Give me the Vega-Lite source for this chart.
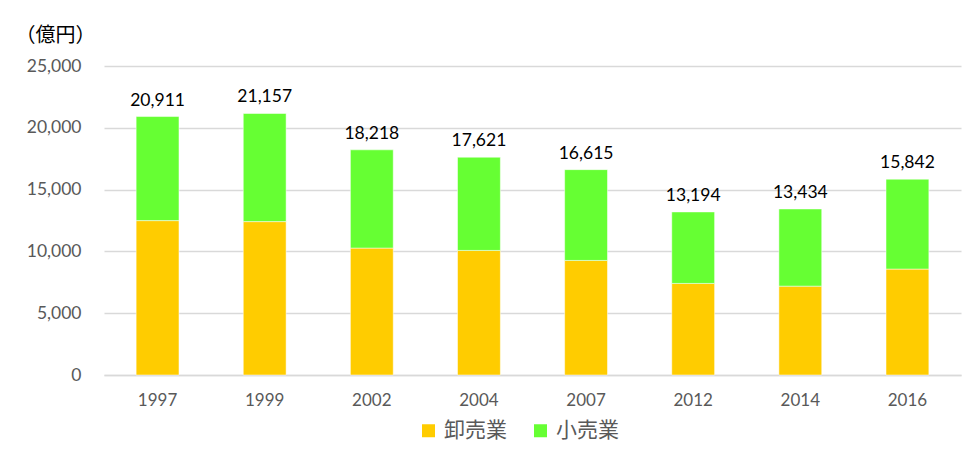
{
  "$schema": "https://vega.github.io/schema/vega-lite/v6.json",
  "autosize": "none",
  "width": 857,
  "height": 309,
  "padding": {"left": 104, "top": 66, "right": 13, "bottom": 77},
  "background": "white",
  "config": {
    "view": {"stroke": null},
    "font": "Lato"
  },
  "datasets": {
    "parts": [
      {"year": "1997", "type": "卸売業", "order": 1, "value": 12490},
      {"year": "1997", "type": "小売業", "order": 2, "value": 8421},
      {"year": "1999", "type": "卸売業", "order": 1, "value": 12410},
      {"year": "1999", "type": "小売業", "order": 2, "value": 8747},
      {"year": "2002", "type": "卸売業", "order": 1, "value": 10270},
      {"year": "2002", "type": "小売業", "order": 2, "value": 7948},
      {"year": "2004", "type": "卸売業", "order": 1, "value": 10080},
      {"year": "2004", "type": "小売業", "order": 2, "value": 7541},
      {"year": "2007", "type": "卸売業", "order": 1, "value": 9270},
      {"year": "2007", "type": "小売業", "order": 2, "value": 7345},
      {"year": "2012", "type": "卸売業", "order": 1, "value": 7410},
      {"year": "2012", "type": "小売業", "order": 2, "value": 5784},
      {"year": "2014", "type": "卸売業", "order": 1, "value": 7190},
      {"year": "2014", "type": "小売業", "order": 2, "value": 6244},
      {"year": "2016", "type": "卸売業", "order": 1, "value": 8570},
      {"year": "2016", "type": "小売業", "order": 2, "value": 7272}
    ],
    "totals": [
      {"year": "1997", "total": 20911},
      {"year": "1999", "total": 21157},
      {"year": "2002", "total": 18218},
      {"year": "2004", "total": 17621},
      {"year": "2007", "total": 16615},
      {"year": "2012", "total": 13194},
      {"year": "2014", "total": 13434},
      {"year": "2016", "total": 15842}
    ]
  },
  "layer": [
    {
      "data": {"name": "parts"},
      "mark": {"type": "bar", "stroke": "white", "strokeWidth": 0.5},
      "encoding": {
        "x": {
          "field": "year", "type": "ordinal",
          "scale": {"paddingInner": 0.6, "paddingOuter": 0.3},
          "axis": {
            "title": null, "labelAngle": 0, "labelFontSize": 17, "labelColor": "#595959",
            "labelPadding": 30, "ticks": false, "domainColor": "#d9d9d9", "domainWidth": 1.5,
            "labelFont": "Lato", "labelBaseline": "alphabetic"
          }
        },
        "y": {
          "field": "value", "type": "quantitative", "stack": "zero",
          "scale": {"domain": [0, 25000], "nice": false},
          "axis": {
            "values": [0, 5000, 10000, 15000, 20000, 25000],
            "format": ",d",
            "title": "（億円）", "titleAngle": 0, "titleAlign": "left", "titleBaseline": "middle",
            "titleX": -89, "titleY": -31, "titleFontSize": 20, "titleFontWeight": "normal", "titleColor": "#000000",
            "titleFont": "Noto Sans CJK JP",
            "labelFont": "Lato", "labelFontSize": 17.5, "labelColor": "#595959", "labelPadding": 23,
            "ticks": false, "domain": false,
            "gridColor": "#d9d9d9", "gridWidth": 1.5
          }
        },
        "color": {
          "field": "type", "type": "nominal",
          "scale": {"domain": ["卸売業", "小売業"], "range": ["#FFCC00", "#66FF33"]},
          "legend": {
            "title": null, "orient": "none", "direction": "horizontal",
            "legendX": 314, "legendY": 354,
            "symbolType": "square", "symbolSize": 169, "symbolStrokeWidth": 0,
            "labelFont": "Noto Sans CJK JP",
            "labelFontSize": 21, "labelColor": "#595959", "columnPadding": 23, "labelOffset": 5
          }
        },
        "order": {"field": "order", "type": "quantitative"}
      }
    },
    {
      "data": {"name": "totals"},
      "mark": {"type": "text", "baseline": "alphabetic", "dy": -11, "fontSize": 17.5, "font": "Lato", "color": "#000000"},
      "encoding": {
        "x": {"field": "year", "type": "ordinal"},
        "y": {"field": "total", "type": "quantitative"},
        "text": {"field": "total", "type": "quantitative", "format": ",d"}
      }
    }
  ]
}
